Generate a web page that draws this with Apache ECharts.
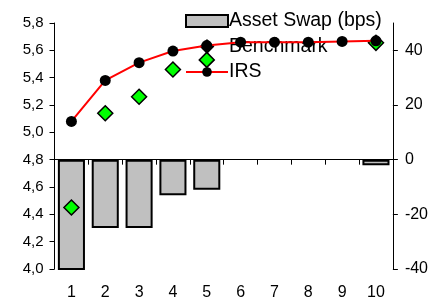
<!DOCTYPE html>
<html><head><meta charset="utf-8">
<script src="https://cdn.jsdelivr.net/npm/echarts@6/dist/echarts.min.js"></script>
<style>html,body{margin:0;padding:0;background:#fff}#c{width:431px;height:307px}</style>
</head><body><div id="c"></div>
<script>
var categories = ['1','2','3','4','5','6','7','8','9','10'];
var assetSwap = [-42, -25, -25, -13, -11, null, null, null, null, -2];
var benchmark = [4.45, 5.14, 5.26, 5.46, 5.53, null, null, null, null, 5.655];
var irs = [5.08, 5.38, 5.51, 5.595, 5.635, 5.66, 5.66, 5.66, 5.665, 5.67];
var leftTicks = [4.0, 4.2, 4.4, 4.6, 4.8, 5.0, 5.2, 5.4, 5.6, 5.8];
var rightTicks = [-40, -20, 0, 20, 40];

var chart = echarts.init(document.getElementById('c'));
var font = 'Liberation Sans, Arial, sans-serif';
chart.setOption({
  animation: false,
  backgroundColor: '#fff',
  textStyle: {fontFamily: font, color: '#000'},
  grid: {left: 54.5, right: 38, top: 23, bottom: 38, containLabel: false},
  legend: {
    z: 1,
    orient: 'vertical', left: 180, top: 6, itemWidth: 42, itemHeight: 12, itemGap: 5.5,
    textStyle: {fontFamily: font, fontSize: 19.5, color: '#000', padding: [0,0,0,-4]},
    data: [
      {name: 'Asset Swap (bps)', icon: 'rect'},
      {name: 'Benchmark', icon: 'path://M0,6L0,6M21,-0.5L27.5,6L21,12.5L14.5,6ZM42,6L42,6'},
      {name: 'IRS'}
    ]
  },
  xAxis: {
    type: 'category', data: categories, boundaryGap: true,
    axisLine: {lineStyle: {color: '#000', width: 1}},
    axisTick: {show: true, length: 5, lineStyle: {color: '#000'}},
    axisLabel: {fontSize: 16, color: '#000', margin: 16, fontFamily: font}
  },
  yAxis: [{
    type: 'value', min: 4.0, max: 5.8, interval: 0.2, position: 'left',
    splitLine: {show: false},
    axisLine: {show: true, lineStyle: {color: '#000'}},
    axisTick: {show: true, length: 5, lineStyle: {color: '#000'}},
    axisLabel: {fontSize: 15, color: '#000', margin: 11, fontFamily: font,
      formatter: function(v){ return v.toFixed(1).replace('.', ','); }}
  }, {
    type: 'value', min: -40, max: 50, interval: 10, position: 'right',
    splitLine: {show: false},
    axisLine: {show: true, lineStyle: {color: '#000'}},
    axisTick: {show: true, length: 5, lineStyle: {color: '#000'}, customValues: rightTicks},
    axisLabel: {fontSize: 16, color: '#000', margin: 12, fontFamily: font, customValues: rightTicks}
  }],
  series: [{
    name: 'Asset Swap (bps)', type: 'bar', yAxisIndex: 1, data: assetSwap,
    barCategoryGap: '20%', clip: true,
    itemStyle: {color: '#c0c0c0', borderColor: '#000', borderWidth: 2}
  }, {
    name: 'Benchmark', type: 'scatter', yAxisIndex: 0, data: benchmark,
    symbol: 'diamond', symbolSize: 15,
    itemStyle: {color: '#00ff00', borderColor: '#000', borderWidth: 1.5, opacity: 1}
  }, {
    name: 'IRS', type: 'line', yAxisIndex: 0, data: irs,
    symbol: 'circle', symbolSize: 11,
    lineStyle: {color: '#ff0000', width: 2},
    itemStyle: {color: '#000', borderColor: '#000', borderWidth: 0}
  }]
});
</script></body></html>
